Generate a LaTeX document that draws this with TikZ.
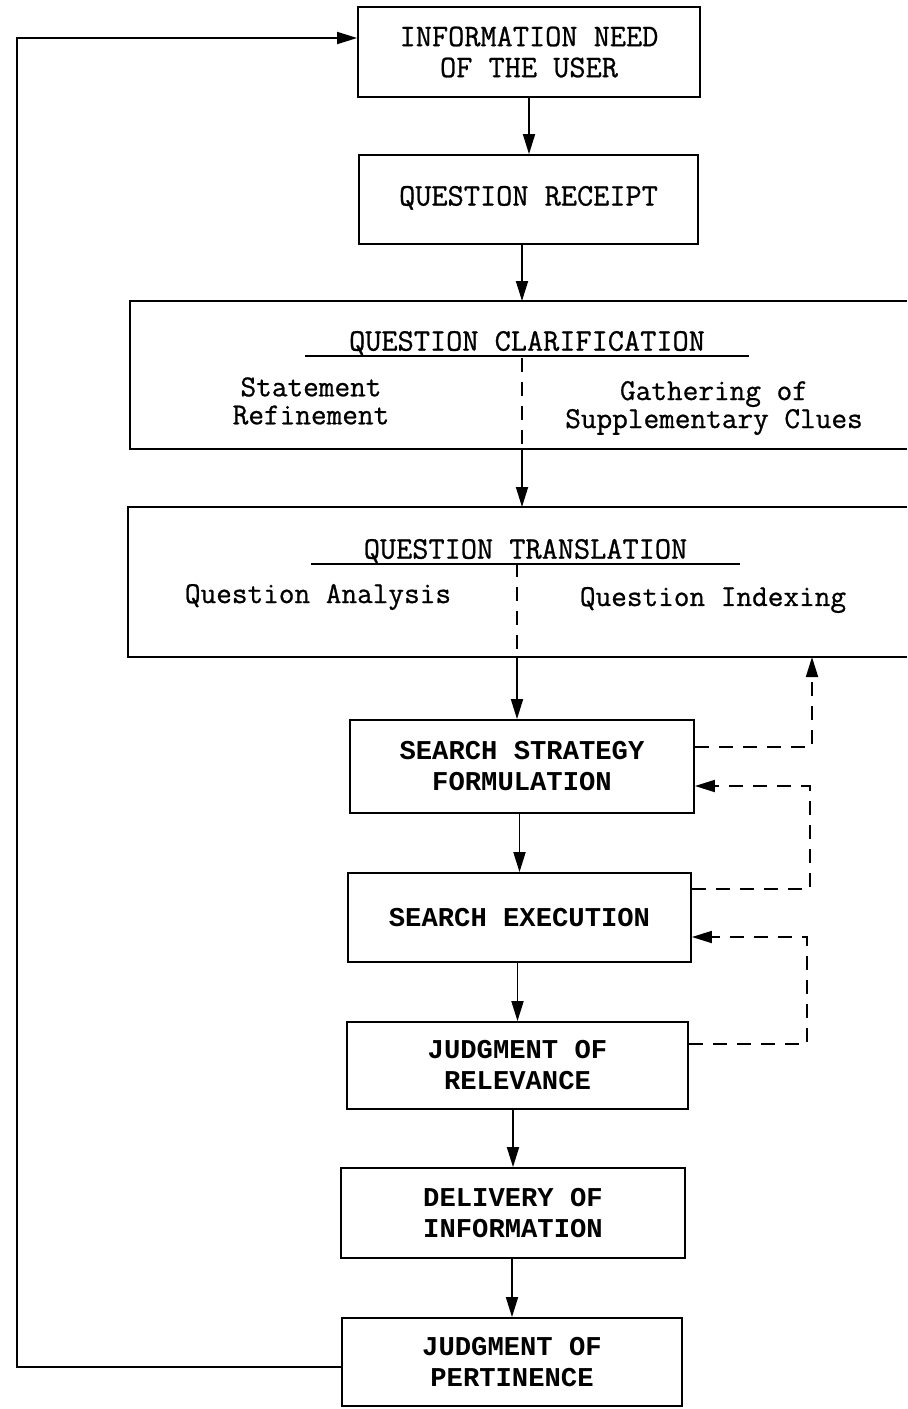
\documentclass[tikz,border=0pt]{standalone}
\usepackage{fontspec}
\usepackage{tikz}
\usetikzlibrary{arrows.meta, positioning}
\tikzset{>={Triangle[length=10pt,width=6pt]}}
\newfontfamily\upfont{Latin Modern Mono}[FakeBold=0.8]
\newfontfamily\lowfont{Liberation Mono}
\tikzstyle{box}=[draw=black, inner sep=0, align=center, font=\upfont\fontsize{15.7}{15.5}\selectfont]
\tikzstyle{lowbox}=[box, font=\lowfont\bfseries\fontsize{13.6}{15.5}\selectfont]
\tikzstyle{wide}=[inner sep=0, outer sep=0]
\tikzstyle{sub}=[inner sep=0, align=center, font=\upfont\fontsize{15.2}{14}\selectfont]
\tikzstyle{fbline}=[dash pattern=on 7pt off 5pt]

\begin{document}
\begin{tikzpicture}[x=0.5pt, y=-0.5pt, line width=0.9pt]
	\useasboundingbox (0,0) rectangle (907,1409);

	\node[box, minimum width=171pt, minimum height=45pt] (need) at (529,52) {INFORMATION NEED\\OF THE USER};
	\node[box, minimum width=169.5pt, minimum height=44.5pt] (receipt) at (528.5,199.5) {\raisebox{3.75pt}{QUESTION RECEIPT}};

	\node[wide, minimum width=388.5pt, minimum height=74pt] (clar) at (518.5,375) {};
	\node[sub, font=\upfont\fontsize{15.7}{15.5}\selectfont, minimum width=221pt] (clartitle) at (527,343) {QUESTION CLARIFICATION};
	\node[sub] (refine) at (311,401) {Statement\\Refinement};
	\node[sub] (clues) at (714,408) {Gathering of\\Supplementary Clues};

	\node[wide, minimum width=389.5pt, minimum height=75pt] (transl) at (517.5,582) {};
	\node[sub, font=\upfont\fontsize{15.7}{15.5}\selectfont, minimum width=213.5pt] (transltitle) at (525.5,551) {QUESTION TRANSLATION};
	\node[sub] (analysis) at (318,597) {Question Analysis};
	\node[sub] (indexing) at (713,600) {Question Indexing};

	\node[lowbox, minimum width=172pt, minimum height=46.5pt] (strategy) at (522,766.5) {SEARCH STRATEGY\\FORMULATION};
	\node[lowbox, minimum width=171.5pt, minimum height=44.5pt] (execution) at (519.5,917.5) {SEARCH EXECUTION};
	\node[lowbox, minimum width=170.5pt, minimum height=43.5pt] (relevance) at (517.5,1065.5) {JUDGMENT OF\\RELEVANCE};
	\node[lowbox, minimum width=172pt, minimum height=45pt] (delivery) at (513,1213) {DELIVERY OF\\INFORMATION};
	\node[lowbox, minimum width=170pt, minimum height=44pt] (pertinence) at (512,1362) {JUDGMENT OF\\PERTINENCE};

	\coordinate (cspine) at (522,358);
	\coordinate (tspine) at (517,563);
	\coordinate (up1) at (812,747);
	\coordinate (up2a) at (810,889);
	\coordinate (up2b) at (810,786);
	\coordinate (up3a) at (807,1044);
	\coordinate (up3b) at (807,937);
	\coordinate (loopa) at (17,1367);
	\coordinate (loopb) at (17,38);

	\draw (clar.north east) -- (clar.north west) -- (clar.south west) -- (clar.south east);
	\draw (transl.north east) -- (transl.north west) -- (transl.south west) -- (transl.south east);
	\draw ([yshift=-2.5pt]clartitle.base west) -- ([yshift=-2.5pt]clartitle.base east);
	\draw ([yshift=-2.5pt]transltitle.base west) -- ([yshift=-2.5pt]transltitle.base east);

	\draw[->] (need.south) -- (need.south |- receipt.north);
	\draw[->] (receipt.south -| cspine) -- (cspine |- clar.north);
	\draw[fbline] (cspine) -- (cspine |- clar.south);
	\draw[->] (cspine |- clar.south) -- (cspine |- transl.north);
	\draw[fbline] (tspine) -- (tspine |- transl.south);
	\draw[->] (tspine |- transl.south) -- (tspine |- strategy.north);
	\draw[->] (strategy.south -| execution.north) -- (execution.north);
	\draw[->] (execution.south -| relevance.north) -- (relevance.north);
	\draw[->] (relevance.south -| delivery.north) -- (delivery.north);
	\draw[->] (delivery.south -| pertinence.north) -- (pertinence.north);

	\draw[->] (loopa -| pertinence.west) -- (loopa) -- (loopb) -- (loopb -| need.west);

	\draw[fbline, ->] (up1 -| strategy.east) -- (up1) -- (up1 |- transl.south);
	\draw[fbline, ->] (up2a -| execution.east) -- (up2a) -- (up2b) -- (up2b -| strategy.east);
	\draw[fbline, ->] (up3a -| relevance.east) -- (up3a) -- (up3b) -- (up3b -| execution.east);
\end{tikzpicture}
\end{document}
